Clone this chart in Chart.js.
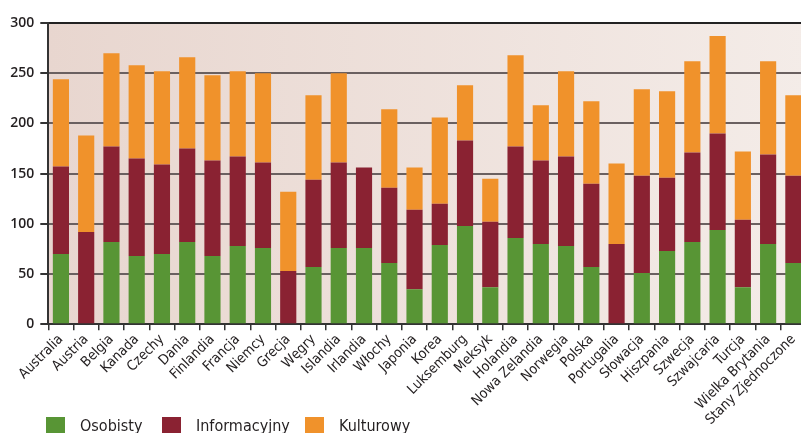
<!DOCTYPE html>
<html>
<head>
<meta charset="utf-8">
<script src="https://cdn.jsdelivr.net/npm/chart.js@4.4.0/dist/chart.umd.min.js"></script>
<style>
  html, body { margin: 0; padding: 0; background: #ffffff; overflow: hidden; }
  #wrap { position: relative; width: 807px; height: 433px; }
  #legend { position: absolute; left: 0; top: 417px; height: 16px; width: 801px;
            font-family: 'Liberation Sans Narrow', 'DejaVu Sans Condensed', 'Liberation Sans', sans-serif;
            font-size: 16px; color: #231f20; }
  .item { position: absolute; top: 0; height: 16px; white-space: nowrap; }
  .swatch { position: absolute; left: 0; top: 0; width: 19px; height: 16px; }
  .label { position: absolute; top: 1px; line-height: 16px; }
</style>
</head>
<body>
<div id="wrap"><canvas id="chart"></canvas></div>
<div id="legend"></div>
<script>
// Countries along the x axis
const countries = ['Australia', 'Austria', 'Belgia', 'Kanada', 'Czechy', 'Dania', 'Finlandia',
  'Francja', 'Niemcy', 'Grecja', 'Węgry', 'Islandia', 'Irlandia', 'Włochy', 'Japonia', 'Korea',
  'Luksemburg', 'Meksyk', 'Holandia', 'Nowa Zelandia', 'Norwegia', 'Polska', 'Portugalia',
  'Słowacja', 'Hiszpania', 'Szwecja', 'Szwajcaria', 'Turcja', 'Wielka Brytania', 'Stany Zjednoczone'];

// Stacked components
const osobisty     = [70, 0, 82, 68, 70, 82, 68, 78, 76, 0, 57, 76, 76, 61, 35, 79, 98, 37, 86, 80, 78, 57, 0, 51, 73, 82, 94, 37, 80, 61];
const informacyjny = [87, 92, 95, 97, 89, 93, 95, 89, 85, 53, 87, 85, 80, 75, 79, 41, 85, 65, 91, 83, 89, 83, 80, 97, 73, 89, 96, 67, 89, 87];
const kulturowy    = [87, 96, 93, 93, 93, 91, 85, 85, 89, 79, 84, 89, 0, 78, 42, 86, 55, 43, 91, 55, 85, 82, 80, 86, 86, 91, 97, 68, 93, 80];

// Value axis
const yMin = 0, yMax = 300, yStep = 50;

const seriesNames  = ['Osobisty', 'Informacyjny', 'Kulturowy'];
const seriesColors = ['#589535', '#8a2232', '#f0922b'];

const narrow = "'Liberation Sans Narrow', 'DejaVu Sans Condensed', 'Liberation Sans', sans-serif";
const numeric = "'Open Sans', 'Liberation Sans', sans-serif";
const ink = '#231f20';

// Soft horizontal gradient behind the plotting area
const plotBackground = {
  id: 'plotBackground',
  beforeDraw(chart) {
    const { ctx, chartArea: a } = chart;
    const g = ctx.createLinearGradient(a.left, 0, a.right, 0);
    g.addColorStop(0, '#e8d6cf');
    g.addColorStop(1, '#f4ece8');
    ctx.save();
    ctx.fillStyle = g;
    ctx.fillRect(a.left, a.top, a.right - a.left, a.bottom - a.top);
    ctx.restore();
  }
};

const datasets = [osobisty, informacyjny, kulturowy].map((values, i) => ({
  label: seriesNames[i],
  data: values,
  backgroundColor: seriesColors[i],
  borderWidth: 0,
  categoryPercentage: 1,
  barPercentage: 0.64
}));

const chart = new Chart(document.getElementById('chart'), {
  type: 'bar',
  data: { labels: countries, datasets },
  plugins: [plotBackground],
  options: {
    responsive: true,
    maintainAspectRatio: false,
    animation: false,
    layout: { padding: { top: 23, left: 0, right: 1, bottom: 0 } },
    plugins: {
      tooltip: { enabled: false },
      legend: { display: false }
    },
    scales: {
      x: {
        stacked: true,
        grid: {
          drawOnChartArea: false,
          drawTicks: true,
          tickLength: 6,
          tickColor: '#333333',
          lineWidth: 1.5
        },
        border: { color: '#333333', width: 2 },
        ticks: {
          autoSkip: false,
          maxRotation: 45,
          minRotation: 45,
          padding: 1,
          color: ink,
          font: { family: narrow, size: 14 }
        },
        afterFit(scale) { scale.height = 108.7; }
      },
      y: {
        stacked: true,
        min: yMin,
        max: yMax,
        grid: {
          tickLength: 8,
          color: ctx => (ctx.tick && ctx.tick.value === yMax) ? '#222222' : '#6a6060',
          tickColor: '#333333',
          lineWidth: 2
        },
        border: { color: '#333333', width: 2 },
        ticks: {
          stepSize: yStep,
          padding: 6,
          color: ink,
          font: { family: numeric, size: 14, weight: '600' }
        },
        afterFit(scale) { scale.width = 48.3; }
      }
    }
  }
});

// Legend row beneath the axis labels, built from the chart's own datasets
const legendPositions = [46, 162, 305];
const legendEl = document.getElementById('legend');
chart.data.datasets.forEach((ds, i) => {
  const item = document.createElement('div');
  item.className = 'item';
  item.style.left = legendPositions[i] + 'px';
  const sw = document.createElement('span');
  sw.className = 'swatch';
  sw.style.background = ds.backgroundColor;
  const tx = document.createElement('span');
  tx.className = 'label';
  tx.style.left = '34px';
  tx.textContent = ds.label;
  item.appendChild(sw);
  item.appendChild(tx);
  legendEl.appendChild(item);
});
</script>
</body>
</html>
